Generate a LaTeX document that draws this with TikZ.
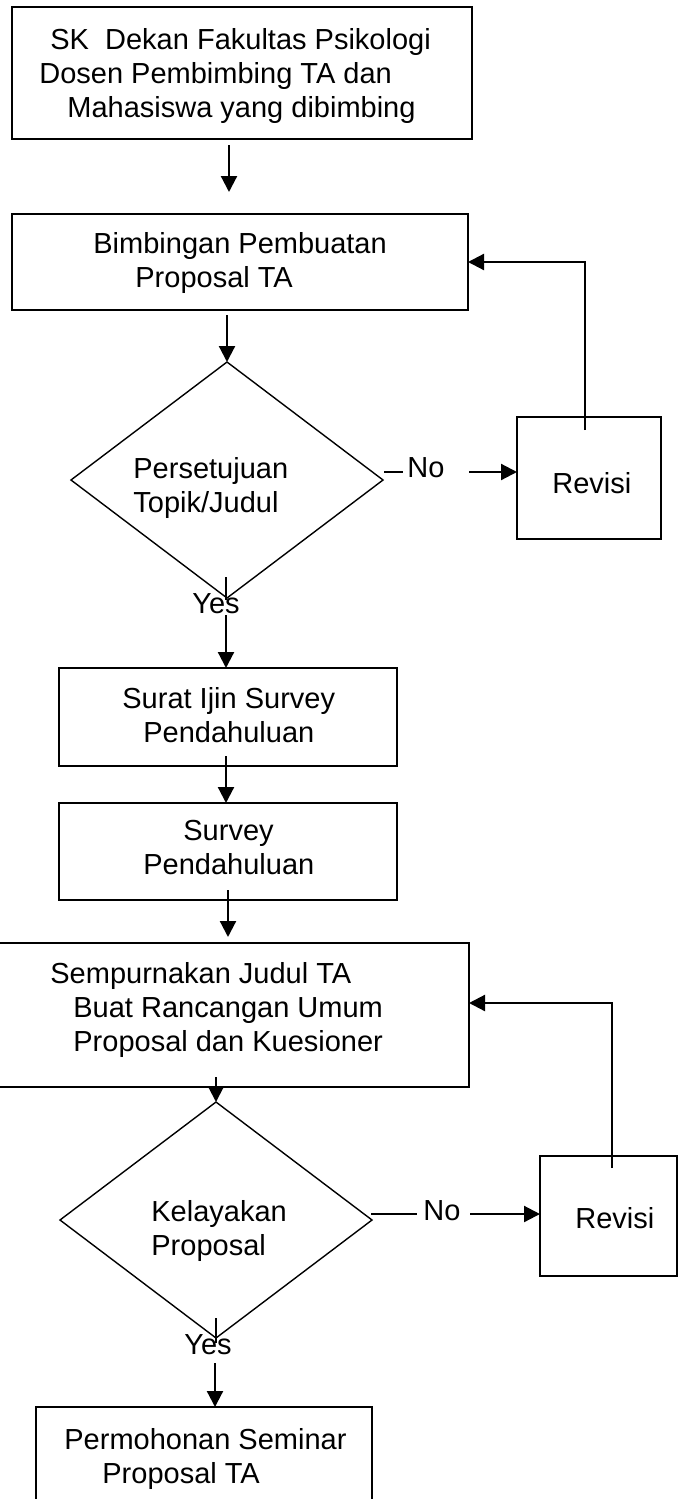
\documentclass[tikz,border=0pt]{standalone}
\usepackage{fontspec}
\setmainfont{Liberation Sans}
\usetikzlibrary{arrows.meta,shapes.geometric}
\begin{document}
\begin{tikzpicture}[x=0.5pt,y=-0.5pt,
  box/.style={draw, line width=0.9pt, inner sep=0pt, outer sep=0pt},
  dia/.style={draw, diamond, line width=0.7pt, inner sep=0pt, outer sep=0pt, minimum width=156pt, minimum height=118pt},
  txt/.style={anchor=north west, inner sep=0pt, align=left, font=\fontsize{14.5pt}{17pt}\selectfont},
  arr/.style={line width=1.1pt, -{Triangle[length=8pt,width=8pt]}},
  thinline/.style={line width=0.7pt}]
\path[fill=white,use as bounding box] (0,0) rectangle (678,1499);

% boxes
\node[box, minimum width=230pt, minimum height=66pt] (b1) at (242,73) {};
\node[box, minimum width=228pt, minimum height=48pt] (b2) at (240,262) {};
\node[dia] (d1) at (227,480) {};
\node[box, minimum width=72pt, minimum height=61pt] (r1) at (589,478) {};
\node[box, minimum width=169pt, minimum height=49pt] (b3) at (228,717) {};
\node[box, minimum width=169pt, minimum height=48.5pt] (b4) at (228,851.5) {};
\node[box, minimum width=239.5pt, minimum height=72pt] (b5) at (229.5,1015) {};
\node[dia] (d2) at (216,1220) {};
\node[box, minimum width=68.5pt, minimum height=60pt] (r2) at (608.5,1216) {};
\node[box, minimum width=168pt, minimum height=52pt] (b6) at (204,1459) {};

% texts
\node[txt] (t1) at (39,28) {\hspace*{5.5pt}SK\ \ Dekan Fakultas Psikologi\\Dosen Pembimbing TA dan\\\hspace*{14pt}Mahasiswa yang dibimbing};
\node[txt] (t2) at (93,232) {Bimbingan Pembuatan\\\hspace*{21pt}Proposal TA};
\node[txt] (td1) at (133,457) {Persetujuan\\Topik/Judul};
\node[txt] (tno1) at (407,457) {No};
\node[txt] (tr1) at (552,472) {Revisi};
\node[txt] (tyes1) at (192,593) {Yes};
\node[txt] (t3) at (122,687) {Surat Ijin Survey\\\hspace*{10.5pt}Pendahuluan};
\node[txt] (t4) at (143,820) {\hspace*{20pt}Survey\\Pendahuluan};
\node[txt] (t5) at (50,962) {Sempurnakan Judul TA\\\hspace*{11.5pt}Buat Rancangan Umum\\\hspace*{11.5pt}Proposal dan Kuesioner};
\node[txt] (td2) at (151,1200) {Kelayakan\\Proposal};
\node[txt] (tno2) at (423,1200) {No};
\node[txt] (tr2) at (575,1207) {Revisi};
\node[txt] (tyes2) at (184,1334) {Yes};
\node[txt] (t6) at (64,1428) {Permohonan Seminar\\\hspace*{19pt}Proposal TA};

% connectors
\coordinate (a1s) at (229,145); \coordinate (a1e) at (229,192);
\draw[arr] (a1s) -- (a1e);
\coordinate (a2s) at (227,315);
\draw[arr] (a2s) -- (d1.north);
\coordinate (y1s) at (226,577); \coordinate (y1e) at (226,600);
\draw[thinline] (y1s) -- (y1e);
\coordinate (a3s) at (226,615);
\draw[arr] (a3s) -- (a3s |- b3.north);
\coordinate (a4s) at (226,756);
\draw[arr] (a4s) -- (a4s |- b4.north);
\coordinate (a5s) at (228,890); \coordinate (a5e) at (228,937);
\draw[arr] (a5s) -- (a5e);
\coordinate (a6s) at (216,1077);
\draw[arr] (a6s) -- (d2.north);
\coordinate (y2s) at (216,1318); \coordinate (y2e) at (216,1343);
\draw[thinline] (y2s) -- (y2e);
\coordinate (a7s) at (215,1363);
\draw[arr] (a7s) -- (a7s |- b6.north);

% No branches
\coordinate (nd1s) at (384,472); \coordinate (nd1e) at (403,472);
\draw[thinline] (nd1s) -- (nd1e);
\coordinate (n1s) at (469,472);
\draw[arr] (n1s) -- (n1s -| r1.west);
\coordinate (nd2s) at (371,1214); \coordinate (nd2e) at (417,1214);
\draw[thinline] (nd2s) -- (nd2e);
\coordinate (n2s) at (470,1214);
\draw[arr] (n2s) -- (n2s -| r2.west);

% feedback loops
\coordinate (f1s) at (585,430);
\draw[arr] (f1s) |- (b2.east);
\coordinate (f2s) at (612,1168); \coordinate (f2c) at (612,1003);
\draw[arr] (f2s) -- (f2c) -- (f2c -| b5.east);
\end{tikzpicture}
\end{document}
